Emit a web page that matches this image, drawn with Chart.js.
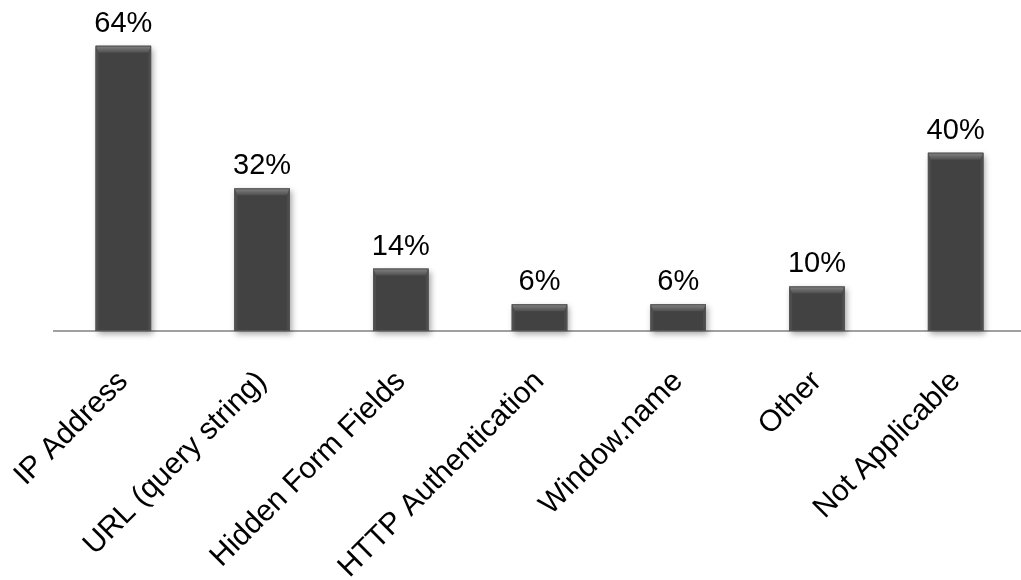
<!DOCTYPE html>
<html>
<head>
<meta charset="utf-8">
<script src="https://cdn.jsdelivr.net/npm/chart.js@4.4.1/dist/chart.umd.min.js"></script>
<style>
  html, body { margin: 0; padding: 0; background: #fff; overflow: hidden; }
  #wrap { width: 1025px; height: 580px; position: relative; }
</style>
</head>
<body>
<div id="wrap"><canvas id="bars"></canvas></div>
<script>
// survey answers, percent of respondents
var categories = ['IP Address', 'URL (query string)', 'Hidden Form Fields',
                  'HTTP Authentication', 'Window.name', 'Other', 'Not Applicable'];
var percents = [64, 32, 14, 6, 6, 10, 40];
var valueLabels = ['64%', '32%', '14%', '6%', '6%', '10%', '40%'];

var FONT = 'Arial, "Liberation Sans", sans-serif';

// bevelled look on each bar: light top facet, thin side facets, soft shadow
var bevelBars = {
    id: 'bevelBars',
    beforeDatasetsDraw: function(chart) {
        var ctx = chart.ctx;
        var meta = chart.getDatasetMeta(0);
        ctx.save();
        meta.data.forEach(function(bar) {
            var left = bar.x - bar.width / 2;
            ctx.shadowColor = 'rgba(0,0,0,0.35)';
            ctx.shadowBlur = 6;
            ctx.shadowOffsetX = 2;
            ctx.shadowOffsetY = 3;
            ctx.fillStyle = '#424242';
            ctx.fillRect(left, bar.y, bar.width, bar.base - bar.y);
        });
        ctx.restore();
    },
    afterDatasetsDraw: function(chart) {
        var ctx = chart.ctx;
        var meta = chart.getDatasetMeta(0);
        var b = 7, s = 3;
        ctx.save();
        meta.data.forEach(function(bar) {
            var l = bar.x - bar.width / 2, r = bar.x + bar.width / 2;
            var t = bar.y, bot = bar.base;
            // side facets
            ctx.fillStyle = '#4d4d4d';
            ctx.beginPath();
            ctx.moveTo(l, t); ctx.lineTo(l + s, t + b); ctx.lineTo(l + s, bot); ctx.lineTo(l, bot);
            ctx.closePath(); ctx.fill();
            ctx.fillStyle = '#4b4b4b';
            ctx.beginPath();
            ctx.moveTo(r, t); ctx.lineTo(r - s, t + b); ctx.lineTo(r - s, bot); ctx.lineTo(r, bot);
            ctx.closePath(); ctx.fill();
            // top facet
            var g = ctx.createLinearGradient(0, t, 0, t + b);
            g.addColorStop(0, '#858585');
            g.addColorStop(1, '#4e4e4e');
            ctx.fillStyle = g;
            ctx.beginPath();
            ctx.moveTo(l, t); ctx.lineTo(r, t); ctx.lineTo(r - s, t + b); ctx.lineTo(l + s, t + b);
            ctx.closePath(); ctx.fill();
            ctx.strokeStyle = '#555';
            ctx.lineWidth = 1;
            ctx.strokeRect(l + 0.5, t + 0.5, bar.width - 1, bot - t - 1);
        });
        ctx.restore();
    },
    afterDraw: function(chart) {
        var ctx = chart.ctx;
        var meta = chart.getDatasetMeta(0);
        ctx.save();
        ctx.font = '29px ' + FONT;
        ctx.fillStyle = '#000';
        ctx.textAlign = 'center';
        ctx.textBaseline = 'alphabetic';
        meta.data.forEach(function(bar, i) {
            ctx.fillText(valueLabels[i], bar.x, bar.y - 14);
        });
        ctx.restore();
    }
};

new Chart(document.getElementById('bars'), {
    type: 'bar',
    data: {
        labels: categories,
        datasets: [{
            data: percents,
            backgroundColor: 'rgba(0,0,0,0)',
            borderWidth: 0,
            barPercentage: 0.8,
            categoryPercentage: 0.5
        }]
    },
    options: {
        responsive: true,
        maintainAspectRatio: false,
        animation: false,
        events: [],
        layout: { padding: { left: 54, top: 19, right: 0, bottom: 0 } },
        plugins: { legend: { display: false }, tooltip: { enabled: false } },
        scales: {
            x: {
                grid: { display: false, drawTicks: false },
                border: { display: true, color: '#a0a0a0', width: 2 },
                ticks: {
                    color: '#000',
                    font: { family: FONT, size: 30 },
                    minRotation: 45,
                    maxRotation: 45,
                    autoSkip: false,
                    padding: 33
                },
                afterFit: function(scale) {
                    scale.height = 249;
                    scale.paddingLeft = 0;
                    scale.paddingRight = 0;
                }
            },
            y: {
                display: false,
                min: 0,
                max: 70
            }
        }
    },
    plugins: [bevelBars]
});
</script>
</body>
</html>
